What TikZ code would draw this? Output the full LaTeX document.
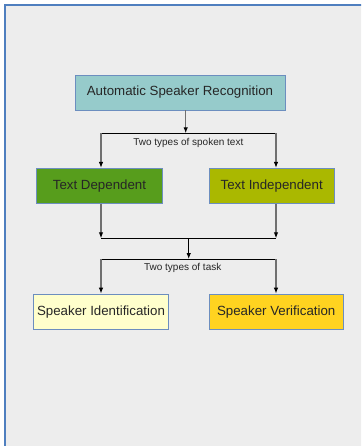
\documentclass[tikz,border=0pt]{standalone}
\usepackage{fontspec}
\setmainfont{Liberation Sans}
\usetikzlibrary{arrows.meta}
\definecolor{pagebg}{HTML}{EDEDED}
\definecolor{frameblue}{HTML}{4F7FBF}
\definecolor{boxedge}{HTML}{6C8EBF}
\definecolor{tealfill}{HTML}{96CBCB}
\definecolor{greenfill}{HTML}{579D1C}
\definecolor{olivefill}{HTML}{AAB800}
\definecolor{paleyellow}{HTML}{FFFFCC}
\definecolor{goldfill}{HTML}{FFD320}
\definecolor{stemgray}{HTML}{707070}
\tikzset{
  box/.style={draw=boxedge, line width=0.8pt, inner sep=0pt, font=\fontsize{13.3}{15}\selectfont, text=black!85},
  caption/.style={inner sep=0pt, font=\fontsize{10}{12}\selectfont, text=black!85},
  stem/.style={draw=stemgray, line width=1.1pt, -{Latex[length=6pt,width=4.5pt,black]}},
  rail/.style={draw=black, line width=0.9pt},
}
\begin{document}
\begin{tikzpicture}[x=1pt, y=-1pt]
  \useasboundingbox (0,0) rectangle (361,446);
  \fill[white] (0,0) rectangle (361,446);
  % page area with its blue frame
  \begin{scope}
    \clip (0,0) rectangle (361,446);
    \filldraw[fill=pagebg, draw=frameblue, line width=2.2pt] (4.8,4.8) rectangle (380,470);
  \end{scope}

  % boxes
  \node[box, fill=tealfill, minimum width=210pt, minimum height=35pt] (asr) at (180,92.5) {Automatic Speaker Recognition};
  \node[box, fill=greenfill, minimum width=125.5pt, minimum height=35pt] (td) at (99.5,185.8) {Text Dependent};
  \node[box, fill=olivefill, minimum width=125.5pt, minimum height=35pt] (ti) at (271.7,185.8) {Text Independent};
  \node[box, fill=paleyellow, minimum width=134.5pt, minimum height=35pt] (si) at (101,311.6) {Speaker Identification};
  \node[box, fill=goldfill, minimum width=134.5pt, minimum height=35pt] (sv) at (276.2,311.6) {Speaker Verification};

  % junction points of the split and merge rails
  \coordinate (s1m) at (185.7,133.3);
  \coordinate (s1l) at (101,133.3);
  \coordinate (s1r) at (276,133.3);
  \coordinate (m1l) at (101,238.3);
  \coordinate (m1r) at (276,238.3);
  \coordinate (m1m) at (188.7,238.3);
  \coordinate (s2m) at (188.7,259);
  \coordinate (s2l) at (101,259);
  \coordinate (s2r) at (276,259);

  % captions
  \node[caption] (cap1) at (188.3,142.8) {Two types of spoken text};
  \node[caption] (cap2) at (182.7,267.8) {Two types of task};

  % split into the two kinds of spoken text
  \draw[stem] (asr.south -| s1m) -- (s1m);
  \draw[rail] (s1l) -- (s1r);
  \draw[stem] (s1l) -- (s1l |- td.north);
  \draw[stem] (s1r) -- (s1r |- ti.north);

  % merge of both kinds
  \draw[stem] (td.south -| m1l) -- (m1l);
  \draw[stem] (ti.south -| m1r) -- (m1r);
  \draw[rail] (m1l) -- (m1r);

  % split into the two tasks
  \draw[stem, draw=black, line width=0.9pt] (m1m) -- (s2m);
  \draw[rail] (s2l) -- (s2r);
  \draw[stem] (s2l) -- (s2l |- si.north);
  \draw[stem] (s2r) -- (s2r |- sv.north);
\end{tikzpicture}
\end{document}
